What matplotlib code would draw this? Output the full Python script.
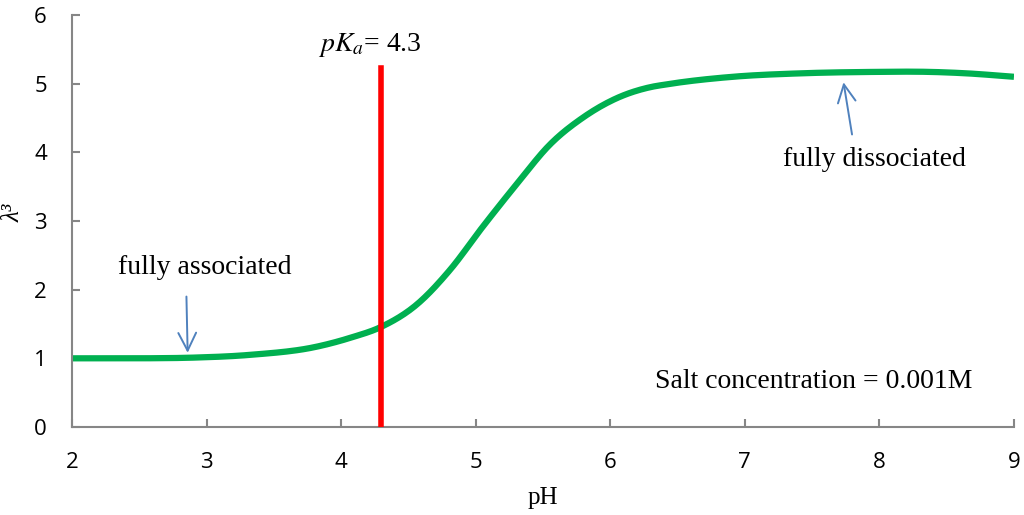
import matplotlib.pyplot as plt
import numpy as np

# curve
ph = [2.0, 2.5, 2.9, 3.32, 3.82, 4.07, 4.30, 4.56, 4.81, 5.05, 5.31, 5.55,
      5.80, 6.05, 6.30, 6.42, 6.91, 7.41, 7.91, 8.40, 8.65, 9.0]
lam3 = [1.0, 1.0, 1.01, 1.05, 1.17, 1.30, 1.46, 1.78, 2.29, 2.91, 3.55, 4.11,
        4.51, 4.79, 4.95, 4.99, 5.10, 5.15, 5.17, 5.17, 5.15, 5.10]

pka = 4.3
pka_top = 5.23
xticks = [2, 3, 4, 5, 6, 7, 8, 9]
yticks = [0, 1, 2, 3, 4, 5, 6]

serif = 'Liberation Serif'
arrow_col = '#4F81BD'


def smooth_curve(x, y, n=20):
    # hermite spline through the read points, just to draw it smooth
    x = np.asarray(x, float)
    y = np.asarray(y, float)
    m = np.gradient(y, x)
    xo, yo = [], []
    for i in range(len(x) - 1):
        h = x[i + 1] - x[i]
        t = np.linspace(0, 1, n, endpoint=False)
        h00 = 2 * t**3 - 3 * t**2 + 1
        h10 = t**3 - 2 * t**2 + t
        h01 = -2 * t**3 + 3 * t**2
        h11 = t**3 - t**2
        xo.append(x[i] + t * h)
        yo.append(h00 * y[i] + h10 * h * m[i] + h01 * y[i + 1] + h11 * h * m[i + 1])
    xo.append([x[-1]])
    yo.append([y[-1]])
    return np.concatenate(xo), np.concatenate(yo)


fig = plt.figure(figsize=(10.24, 5.15), dpi=100)
ax = fig.add_axes([0.0703, 0.1709, 0.9199, 0.80])

xs, ys = smooth_curve(ph, lam3)
ax.plot(xs, ys, color='#00B050', lw=4.5, solid_capstyle='butt', zorder=2)

ax.plot([pka, pka], [0, pka_top], color='#FF0000', lw=4, zorder=3)

ax.set_xlim(2, 9)
ax.set_ylim(0, 6)
ax.set_xticks(xticks)
ax.set_yticks(yticks)
for s in ['top', 'right']:
    ax.spines[s].set_visible(False)
for s in ['left', 'bottom']:
    ax.spines[s].set_color('#868686')
    ax.spines[s].set_linewidth(1.5)
ax.tick_params(direction='in', length=6, width=1.5, color='#868686',
               labelsize=16)
ax.tick_params(axis='y', pad=18)
ax.tick_params(axis='x', pad=18)
for lab in ax.get_xticklabels() + ax.get_yticklabels():
    lab.set_family('Open Sans')

ax.set_xlabel('pH', fontsize=18, family=serif, labelpad=10)
ax.set_ylabel('λ³', fontsize=18, family=serif, style='italic')
ax.yaxis.set_label_coords(-0.05, 0.52)

ax.text(4.21, 5.56, r'$pK_a$= 4.3', fontsize=20, family=serif,
        ha='center', va='center', math_fontfamily='stix')

ax.annotate('', xy=(2.86, 1.04), xytext=(2.85, 1.94),
            arrowprops=dict(arrowstyle='->', color=arrow_col, lw=1.4,
                            mutation_scale=32))
ax.text(2.99, 2.32, 'fully associated', fontsize=20, family=serif,
        ha='center', va='center')

ax.annotate('', xy=(7.73, 5.06), xytext=(7.80, 4.22),
            arrowprops=dict(arrowstyle='->', color=arrow_col, lw=1.4,
                            mutation_scale=32))
ax.text(7.96, 3.89, 'fully dissociated', fontsize=20, family=serif,
        ha='center', va='center')

ax.text(7.51, 0.66, 'Salt concentration = 0.001M', fontsize=20, family=serif,
        ha='center', va='center')

fig.savefig('out.png', dpi=100)
